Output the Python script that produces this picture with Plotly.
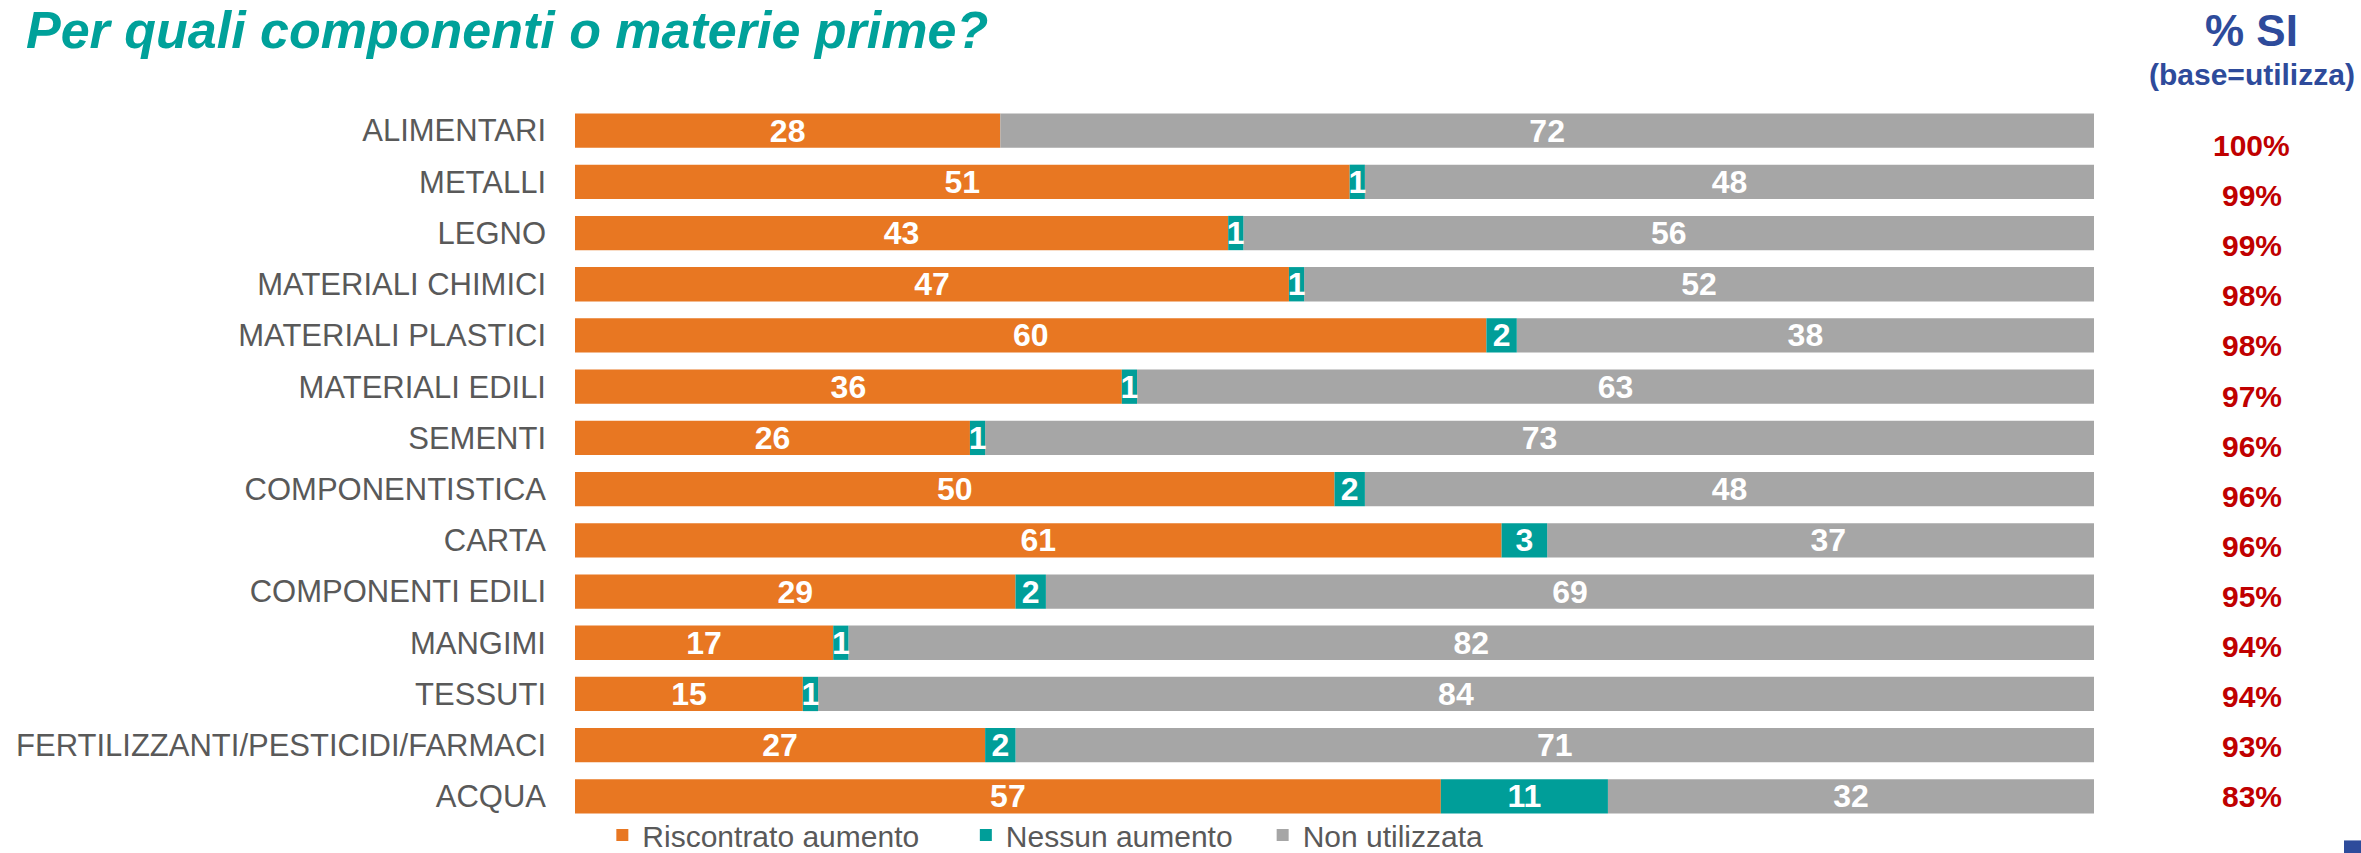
import plotly.graph_objects as go

categories = ["ALIMENTARI", "METALLI", "LEGNO", "MATERIALI CHIMICI", "MATERIALI PLASTICI",
              "MATERIALI EDILI", "SEMENTI", "COMPONENTISTICA", "CARTA", "COMPONENTI EDILI",
              "MANGIMI", "TESSUTI", "FERTILIZZANTI/PESTICIDI/FARMACI", "ACQUA"]
riscontrato = [28, 51, 43, 47, 60, 36, 26, 50, 61, 29, 17, 15, 27, 57]
nessun = [0, 1, 1, 1, 2, 1, 1, 2, 3, 2, 1, 1, 2, 11]
non_utilizzata = [72, 48, 56, 52, 38, 63, 73, 48, 37, 69, 82, 84, 71, 32]
pct_si = ["100%", "99%", "99%", "98%", "98%", "97%", "96%", "96%", "96%", "95%", "94%", "94%", "93%", "83%"]

ORANGE = "#E87722"
TEAL = "#009E99"
GREY = "#A6A6A6"
FONT = "Liberation Sans, Arial, sans-serif"
NB = "\u00a0"

def lbl(vals):
    return [str(v) if v > 0 else "" for v in vals]

base_teal = riscontrato
base_grey = [a + b for a, b in zip(riscontrato, nessun)]

fig = go.Figure()
common = dict(orientation="h", y=categories, textposition="inside", insidetextanchor="middle",
              constraintext="none", textangle=0,
              textfont=dict(family=FONT, size=32, color="white", weight="bold"),
              marker_line_width=0, hoverinfo="skip")
fig.add_trace(go.Bar(name="Riscontrato aumento" + NB * 5, x=riscontrato, base=[0] * len(riscontrato),
                     text=lbl(riscontrato), marker_color=ORANGE, legendrank=1, **common))
fig.add_trace(go.Bar(name="Non utilizzata", x=non_utilizzata, base=base_grey,
                     text=lbl(non_utilizzata), marker_color=GREY, legendrank=3, **common))
fig.add_trace(go.Bar(name="Nessun aumento" + NB * 3, x=nessun, base=base_teal,
                     text=lbl(nessun), marker_color=TEAL, legendrank=2, **common))

# invisible anchor trace for the secondary y scale used by the % SI column
fig.add_trace(go.Scatter(x=[50] * len(pct_si), y=list(range(len(pct_si))), yaxis="y2",
                         mode="markers", marker=dict(opacity=0), showlegend=False,
                         hoverinfo="skip"))
for i, p in enumerate(pct_si):
    fig.add_annotation(text=f"<b>{p}</b>", xref="paper", yref="y2", x=1.104, y=i,
                       showarrow=False, xanchor="center", yanchor="middle",
                       font=dict(family=FONT, size=30, color="#C00000"))

fig.update_layout(
    width=2361, height=853,
    margin=dict(l=575, r=267, t=105, b=31, autoexpand=False),
    paper_bgcolor="white", plot_bgcolor="white",
    barmode="overlay", bargap=0.33,
    xaxis=dict(range=[0, 100], visible=False, fixedrange=True),
    yaxis=dict(categoryorder="array", categoryarray=categories, autorange="reversed",
               showgrid=False, zeroline=False, showline=False, ticks="",
               ticklabelstandoff=28, automargin=False,
               tickfont=dict(family=FONT, size=31, color="#595959")),
    yaxis2=dict(overlaying="y", range=[13.506, -0.811], visible=False),
    legend=dict(orientation="h", x=0.018, xanchor="left",
                yref="container", y=1 - 835 / 853, yanchor="middle",
                font=dict(family=FONT, size=30, color="#595959"),
                traceorder="normal", itemclick=False, bgcolor="rgba(0,0,0,0)"),
    title=dict(text="<i><b>Per quali componenti o materie prime?</b></i>",
               x=0.011, xanchor="left", y=0.965, yanchor="middle",
               font=dict(family=FONT, size=52, color="#00A19A")),
    showlegend=True,
)

fig.add_annotation(text="<b>% SI</b>", xref="paper", yref="paper", x=1.104, y=1.1037,
                   showarrow=False, xanchor="center", yanchor="middle",
                   font=dict(family=FONT, size=44, color="#2E4B9B"))
fig.add_annotation(text="<b>(base=utilizza)</b>", xref="paper", yref="paper", x=1.104, y=1.042,
                   showarrow=False, xanchor="center", yanchor="middle",
                   font=dict(family=FONT, size=30, color="#2E4B9B"))
fig.add_shape(type="rect", xref="paper", yref="paper", x0=1.1646, x1=1.18, y0=-0.045, y1=-0.0257,
              fillcolor="#2E4B9B", line_width=0)

fig.write_html("out.html", config={"displayModeBar": False},
               post_script="document.body.style.margin='0px';")
